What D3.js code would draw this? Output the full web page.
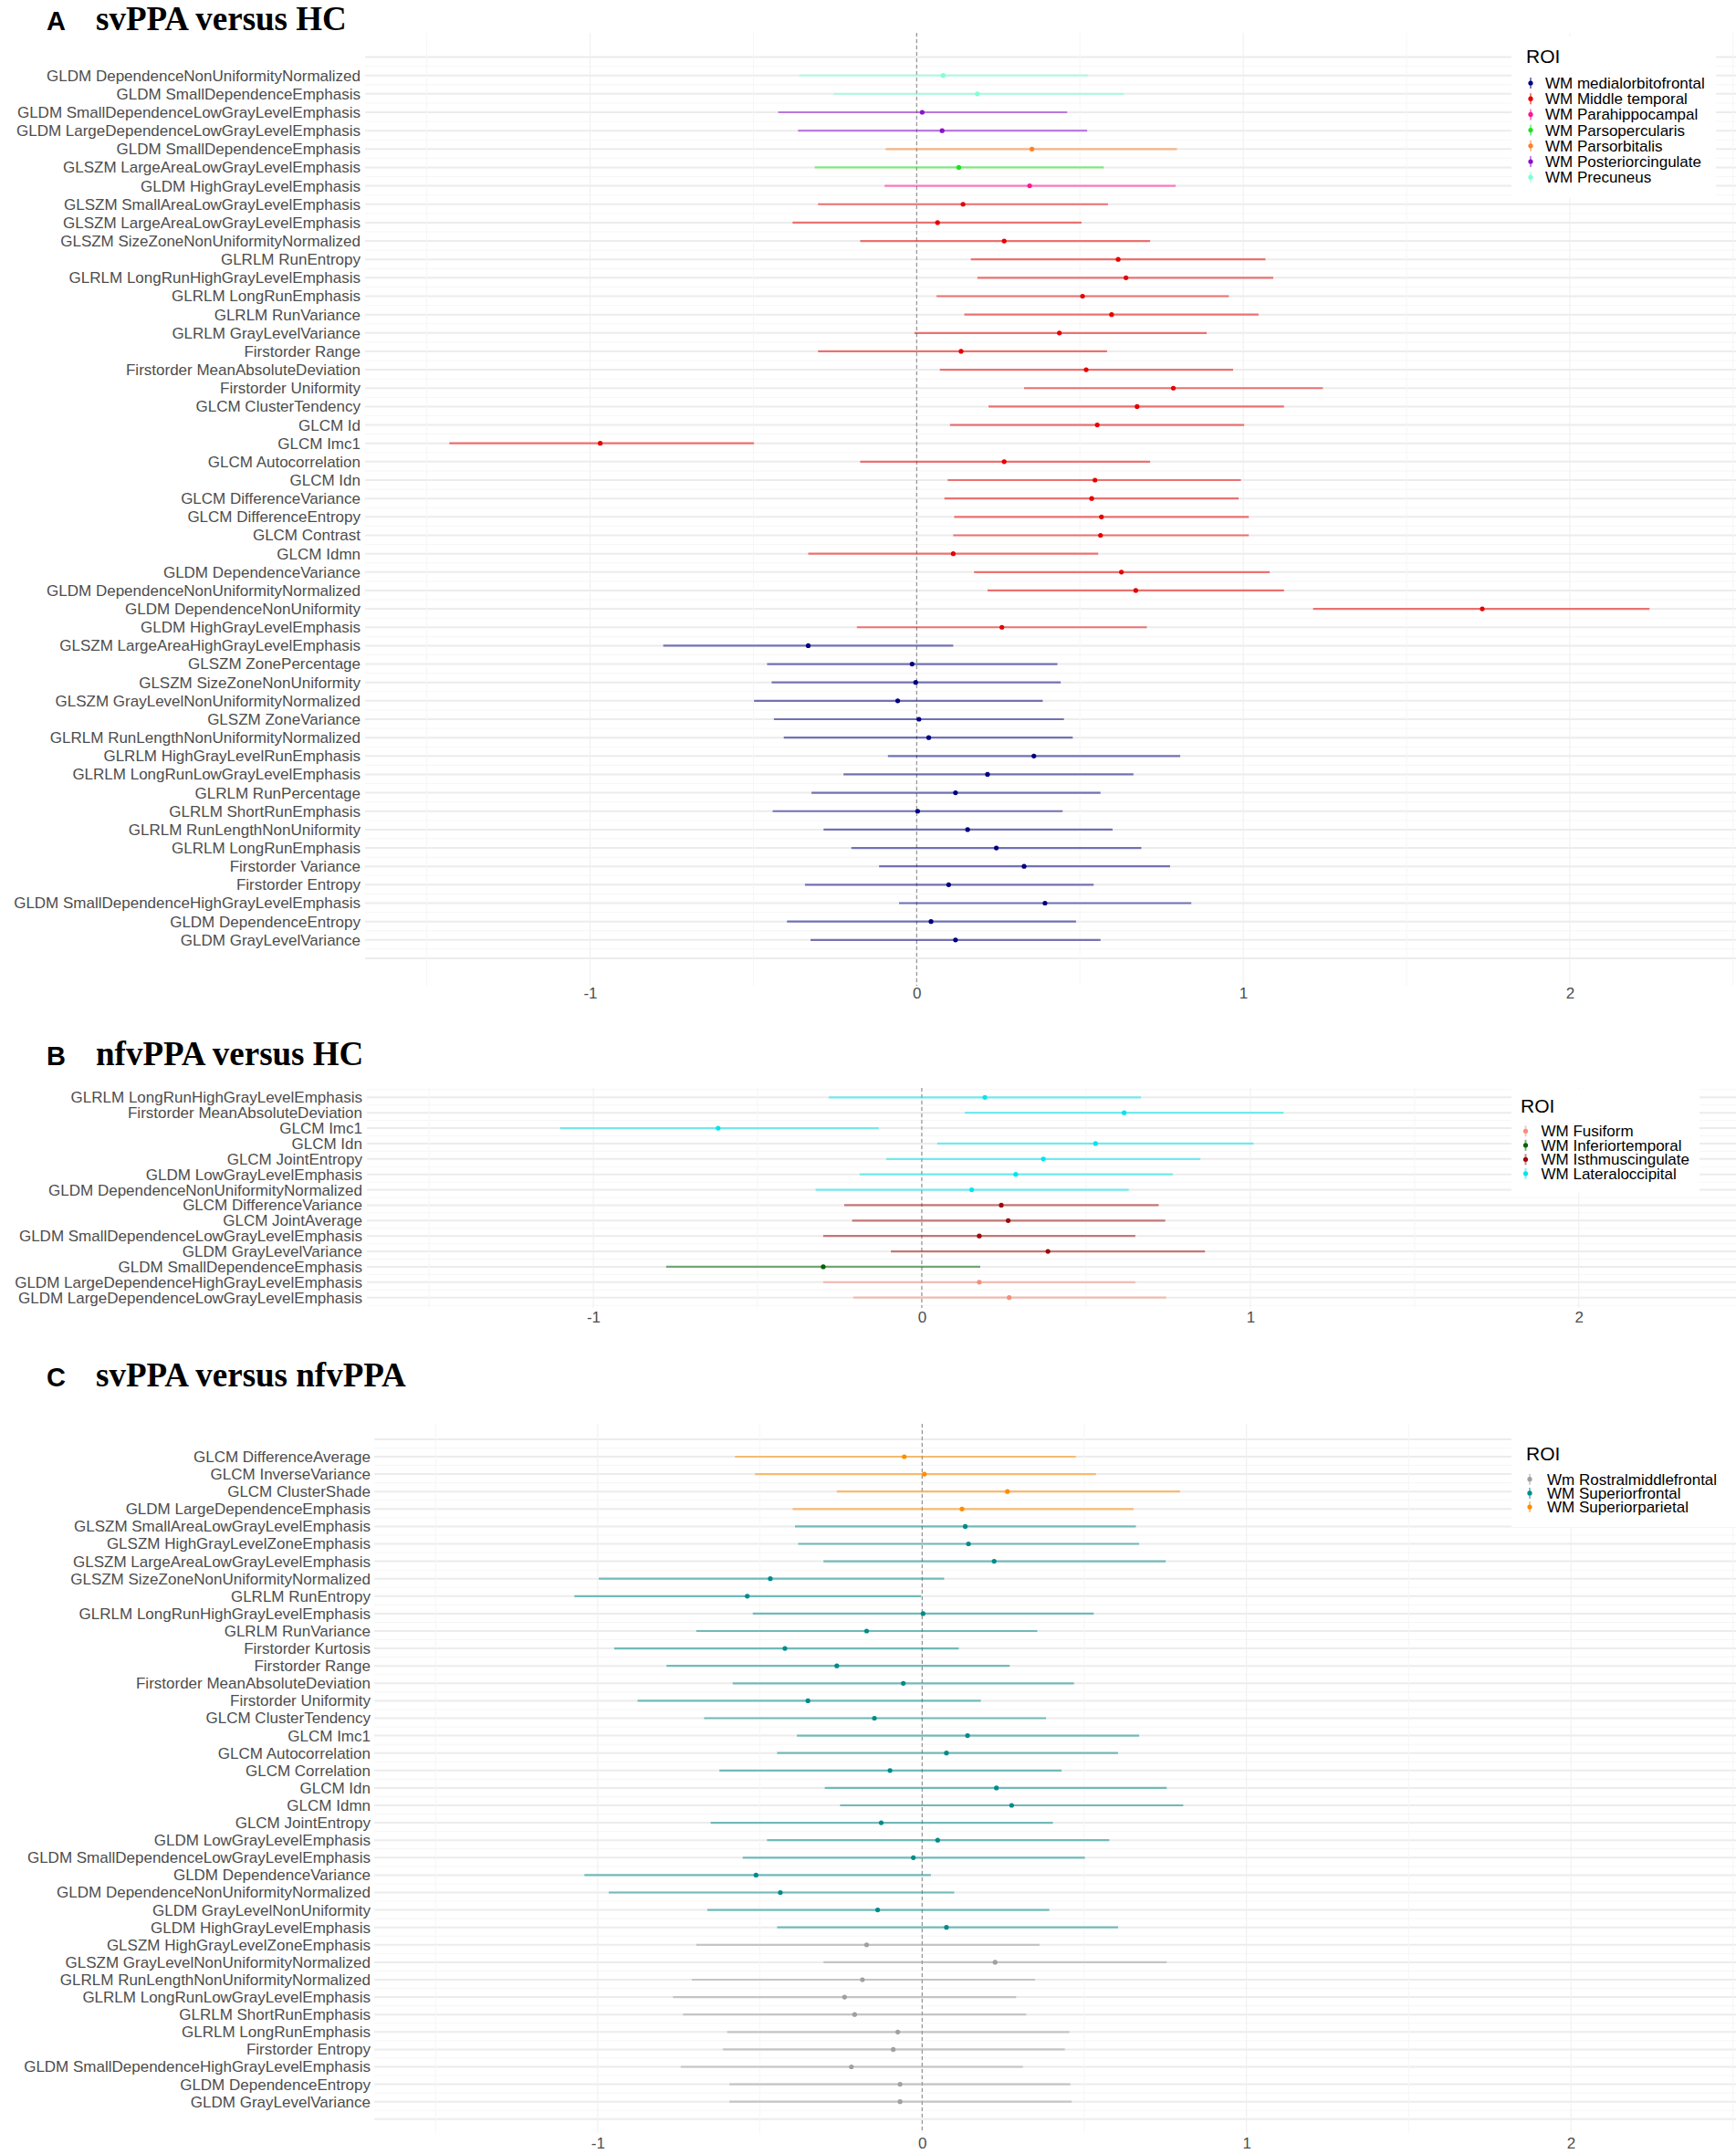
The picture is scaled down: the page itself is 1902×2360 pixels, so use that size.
<!DOCTYPE html>
<html>
<head>
<meta charset="utf-8">
<script src="https://cdn.jsdelivr.net/npm/d3@7/dist/d3.min.js"></script>
<style>
	body { margin: 0; background: #ffffff; }
</style>
</head>
<body>
<div id="chart"></div>
<script>
// ---- panel A : svPPA versus HC ----
var featuresA = [
	"GLDM DependenceNonUniformityNormalized", "GLDM SmallDependenceEmphasis",
	"GLDM SmallDependenceLowGrayLevelEmphasis", "GLDM LargeDependenceLowGrayLevelEmphasis",
	"GLDM SmallDependenceEmphasis", "GLSZM LargeAreaLowGrayLevelEmphasis",
	"GLDM HighGrayLevelEmphasis", "GLSZM SmallAreaLowGrayLevelEmphasis",
	"GLSZM LargeAreaLowGrayLevelEmphasis", "GLSZM SizeZoneNonUniformityNormalized",
	"GLRLM RunEntropy", "GLRLM LongRunHighGrayLevelEmphasis", "GLRLM LongRunEmphasis",
	"GLRLM RunVariance", "GLRLM GrayLevelVariance", "Firstorder Range",
	"Firstorder MeanAbsoluteDeviation", "Firstorder Uniformity", "GLCM ClusterTendency",
	"GLCM Id", "GLCM Imc1", "GLCM Autocorrelation", "GLCM Idn", "GLCM DifferenceVariance",
	"GLCM DifferenceEntropy", "GLCM Contrast", "GLCM Idmn", "GLDM DependenceVariance",
	"GLDM DependenceNonUniformityNormalized", "GLDM DependenceNonUniformity",
	"GLDM HighGrayLevelEmphasis", "GLSZM LargeAreaHighGrayLevelEmphasis",
	"GLSZM ZonePercentage", "GLSZM SizeZoneNonUniformity",
	"GLSZM GrayLevelNonUniformityNormalized", "GLSZM ZoneVariance",
	"GLRLM RunLengthNonUniformityNormalized", "GLRLM HighGrayLevelRunEmphasis",
	"GLRLM LongRunLowGrayLevelEmphasis", "GLRLM RunPercentage", "GLRLM ShortRunEmphasis",
	"GLRLM RunLengthNonUniformity", "GLRLM LongRunEmphasis", "Firstorder Variance",
	"Firstorder Entropy", "GLDM SmallDependenceHighGrayLevelEmphasis",
	"GLDM DependenceEntropy", "GLDM GrayLevelVariance"
];
var roiA = [
	"WM Precuneus", "WM Precuneus", "WM Posteriorcingulate", "WM Posteriorcingulate",
	"WM Parsorbitalis", "WM Parsopercularis", "WM Parahippocampal",
	"WM Middle temporal", "WM Middle temporal", "WM Middle temporal", "WM Middle temporal",
	"WM Middle temporal", "WM Middle temporal", "WM Middle temporal", "WM Middle temporal",
	"WM Middle temporal", "WM Middle temporal", "WM Middle temporal", "WM Middle temporal",
	"WM Middle temporal", "WM Middle temporal", "WM Middle temporal", "WM Middle temporal",
	"WM Middle temporal", "WM Middle temporal", "WM Middle temporal", "WM Middle temporal",
	"WM Middle temporal", "WM Middle temporal", "WM Middle temporal", "WM Middle temporal",
	"WM medialorbitofrontal", "WM medialorbitofrontal", "WM medialorbitofrontal",
	"WM medialorbitofrontal", "WM medialorbitofrontal", "WM medialorbitofrontal",
	"WM medialorbitofrontal", "WM medialorbitofrontal", "WM medialorbitofrontal",
	"WM medialorbitofrontal", "WM medialorbitofrontal", "WM medialorbitofrontal",
	"WM medialorbitofrontal", "WM medialorbitofrontal", "WM medialorbitofrontal",
	"WM medialorbitofrontal", "WM medialorbitofrontal"
];
var estA = [0.081, 0.186, 0.017, 0.078, 0.353, 0.129, 0.346, 0.142, 0.064, 0.268,
	0.617, 0.641, 0.508, 0.597, 0.437, 0.136, 0.519, 0.786, 0.675, 0.553,
	-0.969, 0.268, 0.546, 0.536, 0.566, 0.563, 0.112, 0.627, 0.671, 1.732,
	0.261, -0.332, -0.014, -0.003, -0.058, 0.007, 0.037, 0.359, 0.217, 0.119,
	0.003, 0.156, 0.244, 0.329, 0.098, 0.393, 0.044, 0.119];
var lowA = [-0.359, -0.254, -0.424, -0.363, -0.095, -0.312, -0.098, -0.302, -0.380, -0.173,
	0.166, 0.186, 0.061, 0.146, -0.007, -0.302, 0.071, 0.329, 0.220, 0.102,
	-1.431, -0.173, 0.095, 0.085, 0.115, 0.112, -0.332, 0.176, 0.217, 1.214,
	-0.183, -0.776, -0.458, -0.444, -0.498, -0.437, -0.407, -0.088, -0.224, -0.322,
	-0.441, -0.285, -0.200, -0.115, -0.342, -0.054, -0.397, -0.325];
var highA = [0.525, 0.634, 0.461, 0.522, 0.797, 0.573, 0.793, 0.586, 0.505, 0.715,
	1.068, 1.092, 0.956, 1.047, 0.888, 0.583, 0.969, 1.244, 1.125, 1.003,
	-0.498, 0.715, 0.993, 0.986, 1.017, 1.017, 0.556, 1.081, 1.125, 2.244,
	0.705, 0.112, 0.431, 0.441, 0.386, 0.451, 0.478, 0.807, 0.664, 0.563,
	0.447, 0.600, 0.688, 0.776, 0.542, 0.841, 0.488, 0.563];
var legendA = ["WM medialorbitofrontal", "WM Middle temporal", "WM Parahippocampal",
	"WM Parsopercularis", "WM Parsorbitalis", "WM Posteriorcingulate", "WM Precuneus"];

// ---- panel B : nfvPPA versus HC ----
var featuresB = [
	"GLRLM LongRunHighGrayLevelEmphasis", "Firstorder MeanAbsoluteDeviation", "GLCM Imc1",
	"GLCM Idn", "GLCM JointEntropy", "GLDM LowGrayLevelEmphasis",
	"GLDM DependenceNonUniformityNormalized", "GLCM DifferenceVariance", "GLCM JointAverage",
	"GLDM SmallDependenceLowGrayLevelEmphasis", "GLDM GrayLevelVariance",
	"GLDM SmallDependenceEmphasis", "GLDM LargeDependenceHighGrayLevelEmphasis",
	"GLDM LargeDependenceLowGrayLevelEmphasis"
];
var roiB = [
	"WM Lateraloccipital", "WM Lateraloccipital", "WM Lateraloccipital", "WM Lateraloccipital",
	"WM Lateraloccipital", "WM Lateraloccipital", "WM Lateraloccipital",
	"WM Isthmuscingulate", "WM Isthmuscingulate", "WM Isthmuscingulate", "WM Isthmuscingulate",
	"WM Inferiortemporal", "WM Fusiform", "WM Fusiform"
];
var estB = [0.192, 0.616, -0.620, 0.529, 0.370, 0.286, 0.152, 0.242, 0.263, 0.175, 0.384, -0.300, 0.175, 0.266];
var lowB = [-0.283, 0.131, -1.101, 0.047, -0.108, -0.189, -0.323, -0.236, -0.212, -0.300, -0.094, -0.778, -0.300, -0.209];
var highB = [0.667, 1.101, -0.131, 1.010, 0.848, 0.764, 0.630, 0.721, 0.741, 0.650, 0.862, 0.178, 0.650, 0.744];
var legendB = ["WM Fusiform", "WM Inferiortemporal", "WM Isthmuscingulate", "WM Lateraloccipital"];

// ---- panel C : svPPA versus nfvPPA ----
var featuresC = [
	"GLCM DifferenceAverage", "GLCM InverseVariance", "GLCM ClusterShade",
	"GLDM LargeDependenceEmphasis", "GLSZM SmallAreaLowGrayLevelEmphasis",
	"GLSZM HighGrayLevelZoneEmphasis", "GLSZM LargeAreaLowGrayLevelEmphasis",
	"GLSZM SizeZoneNonUniformityNormalized", "GLRLM RunEntropy",
	"GLRLM LongRunHighGrayLevelEmphasis", "GLRLM RunVariance", "Firstorder Kurtosis",
	"Firstorder Range", "Firstorder MeanAbsoluteDeviation", "Firstorder Uniformity",
	"GLCM ClusterTendency", "GLCM Imc1", "GLCM Autocorrelation", "GLCM Correlation",
	"GLCM Idn", "GLCM Idmn", "GLCM JointEntropy", "GLDM LowGrayLevelEmphasis",
	"GLDM SmallDependenceLowGrayLevelEmphasis", "GLDM DependenceVariance",
	"GLDM DependenceNonUniformityNormalized", "GLDM GrayLevelNonUniformity",
	"GLDM HighGrayLevelEmphasis", "GLSZM HighGrayLevelZoneEmphasis",
	"GLSZM GrayLevelNonUniformityNormalized", "GLRLM RunLengthNonUniformityNormalized",
	"GLRLM LongRunLowGrayLevelEmphasis", "GLRLM ShortRunEmphasis", "GLRLM LongRunEmphasis",
	"Firstorder Entropy", "GLDM SmallDependenceHighGrayLevelEmphasis",
	"GLDM DependenceEntropy", "GLDM GrayLevelVariance"
];
var roiC = [
	"WM Superiorparietal", "WM Superiorparietal", "WM Superiorparietal", "WM Superiorparietal",
	"WM Superiorfrontal", "WM Superiorfrontal", "WM Superiorfrontal", "WM Superiorfrontal",
	"WM Superiorfrontal", "WM Superiorfrontal", "WM Superiorfrontal", "WM Superiorfrontal",
	"WM Superiorfrontal", "WM Superiorfrontal", "WM Superiorfrontal", "WM Superiorfrontal",
	"WM Superiorfrontal", "WM Superiorfrontal", "WM Superiorfrontal", "WM Superiorfrontal",
	"WM Superiorfrontal", "WM Superiorfrontal", "WM Superiorfrontal", "WM Superiorfrontal",
	"WM Superiorfrontal", "WM Superiorfrontal", "WM Superiorfrontal", "WM Superiorfrontal",
	"Wm Rostralmiddlefrontal", "Wm Rostralmiddlefrontal", "Wm Rostralmiddlefrontal",
	"Wm Rostralmiddlefrontal", "Wm Rostralmiddlefrontal", "Wm Rostralmiddlefrontal",
	"Wm Rostralmiddlefrontal", "Wm Rostralmiddlefrontal", "Wm Rostralmiddlefrontal",
	"Wm Rostralmiddlefrontal"
];
var estC = [-0.055, 0.007, 0.263, 0.123, 0.133, 0.143, 0.222, -0.468, -0.539, 0.003,
	-0.171, -0.423, -0.263, -0.058, -0.352, -0.147, 0.140, 0.075, -0.099, 0.229,
	0.276, -0.126, 0.048, -0.027, -0.512, -0.437, -0.137, 0.075, -0.171, 0.225,
	-0.184, -0.239, -0.208, -0.075, -0.089, -0.218, -0.068, -0.068];
var lowC = [-0.577, -0.515, -0.263, -0.399, -0.392, -0.382, -0.304, -0.997, -1.072, -0.522,
	-0.696, -0.949, -0.788, -0.584, -0.877, -0.672, -0.386, -0.447, -0.625, -0.300,
	-0.253, -0.652, -0.478, -0.553, -1.041, -0.966, -0.662, -0.447, -0.696, -0.304,
	-0.710, -0.768, -0.737, -0.601, -0.614, -0.744, -0.594, -0.594];
var highC = [0.474, 0.536, 0.795, 0.652, 0.659, 0.669, 0.751, 0.068, -0.003, 0.529,
	0.355, 0.113, 0.270, 0.468, 0.181, 0.382, 0.669, 0.604, 0.430, 0.754,
	0.805, 0.403, 0.577, 0.502, 0.027, 0.099, 0.392, 0.604, 0.362, 0.754,
	0.348, 0.290, 0.321, 0.454, 0.440, 0.311, 0.457, 0.461];
var legendC = ["Wm Rostralmiddlefrontal", "WM Superiorfrontal", "WM Superiorparietal"];

var xTicks = [-1, 0, 1, 2];

var roiColors = {
	"WM medialorbitofrontal": "#000080",
	"WM Middle temporal": "#e60000",
	"WM Parahippocampal": "#ff1493",
	"WM Parsopercularis": "#1ee21e",
	"WM Parsorbitalis": "#ff7f24",
	"WM Posteriorcingulate": "#8b10d0",
	"WM Precuneus": "#7fffd4",
	"WM Fusiform": "#f4907c",
	"WM Inferiortemporal": "#006400",
	"WM Isthmuscingulate": "#9b0a0a",
	"WM Lateraloccipital": "#00e5ee",
	"Wm Rostralmiddlefrontal": "#a0a0a0",
	"WM Superiorfrontal": "#008b8b",
	"WM Superiorparietal": "#ff8c00"
};

function ForestPanel(options)
{
	var _defaultOpts = {
		letter: "A",
		title: "",
		titleY: 33,
		features: [],
		roi: [],
		est: [],
		low: [],
		high: [],
		legend: [],
		domain: [-1.689, 2.509],
		xRange: [400, 1902],
		top: 36,
		bottom: 1080,
		firstRow: 82.7,
		lastRow: 1029.8,
		labelX: 395,
		tickY: 1088,
		legendBox: [1656, 40, 1880, 217],
		legendTitle: [1672, 62],
		legendItemY: 91,
		legendStep: 17.2,
		legendDotX: 1677,
		legendTextX: 1693
	};

	var _options = Object.assign({}, _defaultOpts, options);

	function draw(svg)
	{
		var o = _options;
		var n = o.features.length;
		var g = svg.append("g");

		var x = d3.scaleLinear().domain(o.domain).range(o.xRange);
		var y = d3.scaleLinear().domain([1, n]).range([o.firstRow, o.lastRow]);

		var rows = d3.range(0, n + 2);
		var halfRows = d3.range(0, n + 1).map(function(d) { return d + 0.5; });
		var grid = x.ticks(8);
		var right = Math.min(o.xRange[1], 1902);

		// minor grid between rows
		g.selectAll(".ymin").data(halfRows).enter().append("line")
			.attr("x1", o.xRange[0]).attr("x2", right)
			.attr("y1", function(d) { return y(d); })
			.attr("y2", function(d) { return y(d); })
			.attr("stroke", "#f6f6f6").attr("stroke-width", 1);

		// major grid at rows
		g.selectAll(".ymaj").data(rows).enter().append("line")
			.filter(function(d) { return y(d) > o.top && y(d) < o.bottom; })
			.attr("x1", o.xRange[0]).attr("x2", right)
			.attr("y1", function(d) { return y(d); })
			.attr("y2", function(d) { return y(d); })
			.attr("stroke", "#ececec").attr("stroke-width", 2);

		g.selectAll(".xgrid").data(grid).enter().append("line")
			.attr("x1", function(d) { return x(d); })
			.attr("x2", function(d) { return x(d); })
			.attr("y1", o.top).attr("y2", o.bottom)
			.attr("stroke", function(d) { return Number.isInteger(d) ? "#efefef" : "#f6f6f6"; })
			.attr("stroke-width", 1);

		// legend sits inside the panel on a white box
		var lb = o.legendBox;
		g.append("rect")
			.attr("x", lb[0]).attr("y", lb[1])
			.attr("width", lb[2] - lb[0]).attr("height", lb[3] - lb[1])
			.attr("fill", "#ffffff");

		// reference line at zero
		g.append("line")
			.attr("x1", x(0)).attr("x2", x(0))
			.attr("y1", o.top).attr("y2", o.bottom)
			.attr("stroke", "#808080").attr("stroke-width", 1)
			.attr("stroke-dasharray", "4,3");

		var idx = d3.range(n);

		g.selectAll(".ci").data(idx).enter().append("line")
			.attr("x1", function(i) { return x(o.low[i]); })
			.attr("x2", function(i) { return x(o.high[i]); })
			.attr("y1", function(i) { return y(i + 1); })
			.attr("y2", function(i) { return y(i + 1); })
			.attr("stroke", function(i) { return roiColors[o.roi[i]]; })
			.attr("stroke-opacity", 0.52)
			.attr("stroke-width", 2.2);

		g.selectAll(".pt").data(idx).enter().append("circle")
			.attr("cx", function(i) { return x(o.est[i]); })
			.attr("cy", function(i) { return y(i + 1); })
			.attr("r", 2.6)
			.attr("fill", function(i) { return roiColors[o.roi[i]]; });

		g.selectAll(".lab").data(idx).enter().append("text")
			.attr("x", o.labelX)
			.attr("y", function(i) { return y(i + 1); })
			.attr("dy", "0.35em")
			.attr("text-anchor", "end")
			.attr("fill", "#4d4d4d")
			.style("font-family", "'Liberation Sans', Arial, sans-serif")
			.style("font-size", "17px")
			.text(function(i) { return o.features[i]; });

		var axis = d3.axisBottom(x)
			.tickValues(xTicks)
			.tickSize(0)
			.tickPadding(0)
			.tickFormat(function(d) { return String(d); });

		var ax = g.append("g")
			.attr("transform", "translate(0," + (o.tickY - 6) + ")")
			.call(axis);
		ax.select(".domain").remove();
		ax.selectAll("text")
			.attr("fill", "#4d4d4d")
			.style("font-family", "'Liberation Sans', Arial, sans-serif")
			.style("font-size", "17px");

		// title: sans letter, bold serif caption
		var t = svg.append("text").attr("x", 51).attr("y", o.titleY).attr("fill", "#000");
		t.append("tspan")
			.style("font-family", "'Liberation Sans', Arial, sans-serif")
			.style("font-weight", "bold")
			.style("font-size", "29px")
			.text(o.letter);
		t.append("tspan")
			.attr("x", 105)
			.style("font-family", "'Liberation Serif', 'Times New Roman', serif")
			.style("font-weight", "bold")
			.style("font-size", "37px")
			.text(o.title);

		drawLegend(g, o);
	}

	function drawLegend(g, o)
	{
		g.append("text")
			.attr("x", o.legendTitle[0])
			.attr("y", o.legendTitle[1])
			.attr("dy", "0.35em")
			.attr("fill", "#000")
			.style("font-family", "'Liberation Sans', Arial, sans-serif")
			.style("font-size", "21px")
			.text("ROI");

		o.legend.forEach(function(name, k) {
			var cy = o.legendItemY + k * o.legendStep;
			var color = roiColors[name];

			g.append("line")
				.attr("x1", o.legendDotX).attr("x2", o.legendDotX)
				.attr("y1", cy - 6).attr("y2", cy + 6)
				.attr("stroke", color).attr("stroke-opacity", 0.5)
				.attr("stroke-width", 2);

			g.append("circle")
				.attr("cx", o.legendDotX).attr("cy", cy)
				.attr("r", 2.6).attr("fill", color);

			g.append("text")
				.attr("x", o.legendTextX)
				.attr("y", cy)
				.attr("dy", "0.35em")
				.attr("fill", "#000")
				.style("font-family", "'Liberation Sans', Arial, sans-serif")
				.style("font-size", "17px")
				.text(name);
		});
	}

	this.draw = draw;
}

var svg = d3.select("#chart").append("svg")
	.attr("width", 1902)
	.attr("height", 2360)
	.style("display", "block")
	.style("background", "#ffffff");

new ForestPanel({
	letter: "A", title: "svPPA versus HC", titleY: 33,
	features: featuresA, roi: roiA, est: estA, low: lowA, high: highA, legend: legendA
}).draw(svg);

new ForestPanel({
	letter: "B", title: "nfvPPA versus HC", titleY: 1167,
	features: featuresB, roi: roiB, est: estB, low: lowB, high: highB, legend: legendB,
	xRange: [402, 1913], top: 1192, bottom: 1433, firstRow: 1202.3, lastRow: 1421.7,
	labelX: 397, tickY: 1443,
	legendBox: [1656, 1193, 1862, 1307], legendTitle: [1666, 1212],
	legendItemY: 1239.3, legendStep: 15.5, legendDotX: 1671.5, legendTextX: 1688.5
}).draw(svg);

new ForestPanel({
	letter: "C", title: "svPPA versus nfvPPA", titleY: 1519,
	features: featuresC, roi: roiC, est: estC, low: lowC, high: highC, legend: legendC,
	xRange: [410, 1902], top: 1560, bottom: 2337, firstRow: 1596, lastRow: 2302.7,
	labelX: 406, tickY: 2348,
	legendBox: [1656, 1560, 1902, 1673], legendTitle: [1672, 1593],
	legendItemY: 1620.7, legendStep: 15.2, legendDotX: 1676, legendTextX: 1695
}).draw(svg);
</script>
</body>
</html>
